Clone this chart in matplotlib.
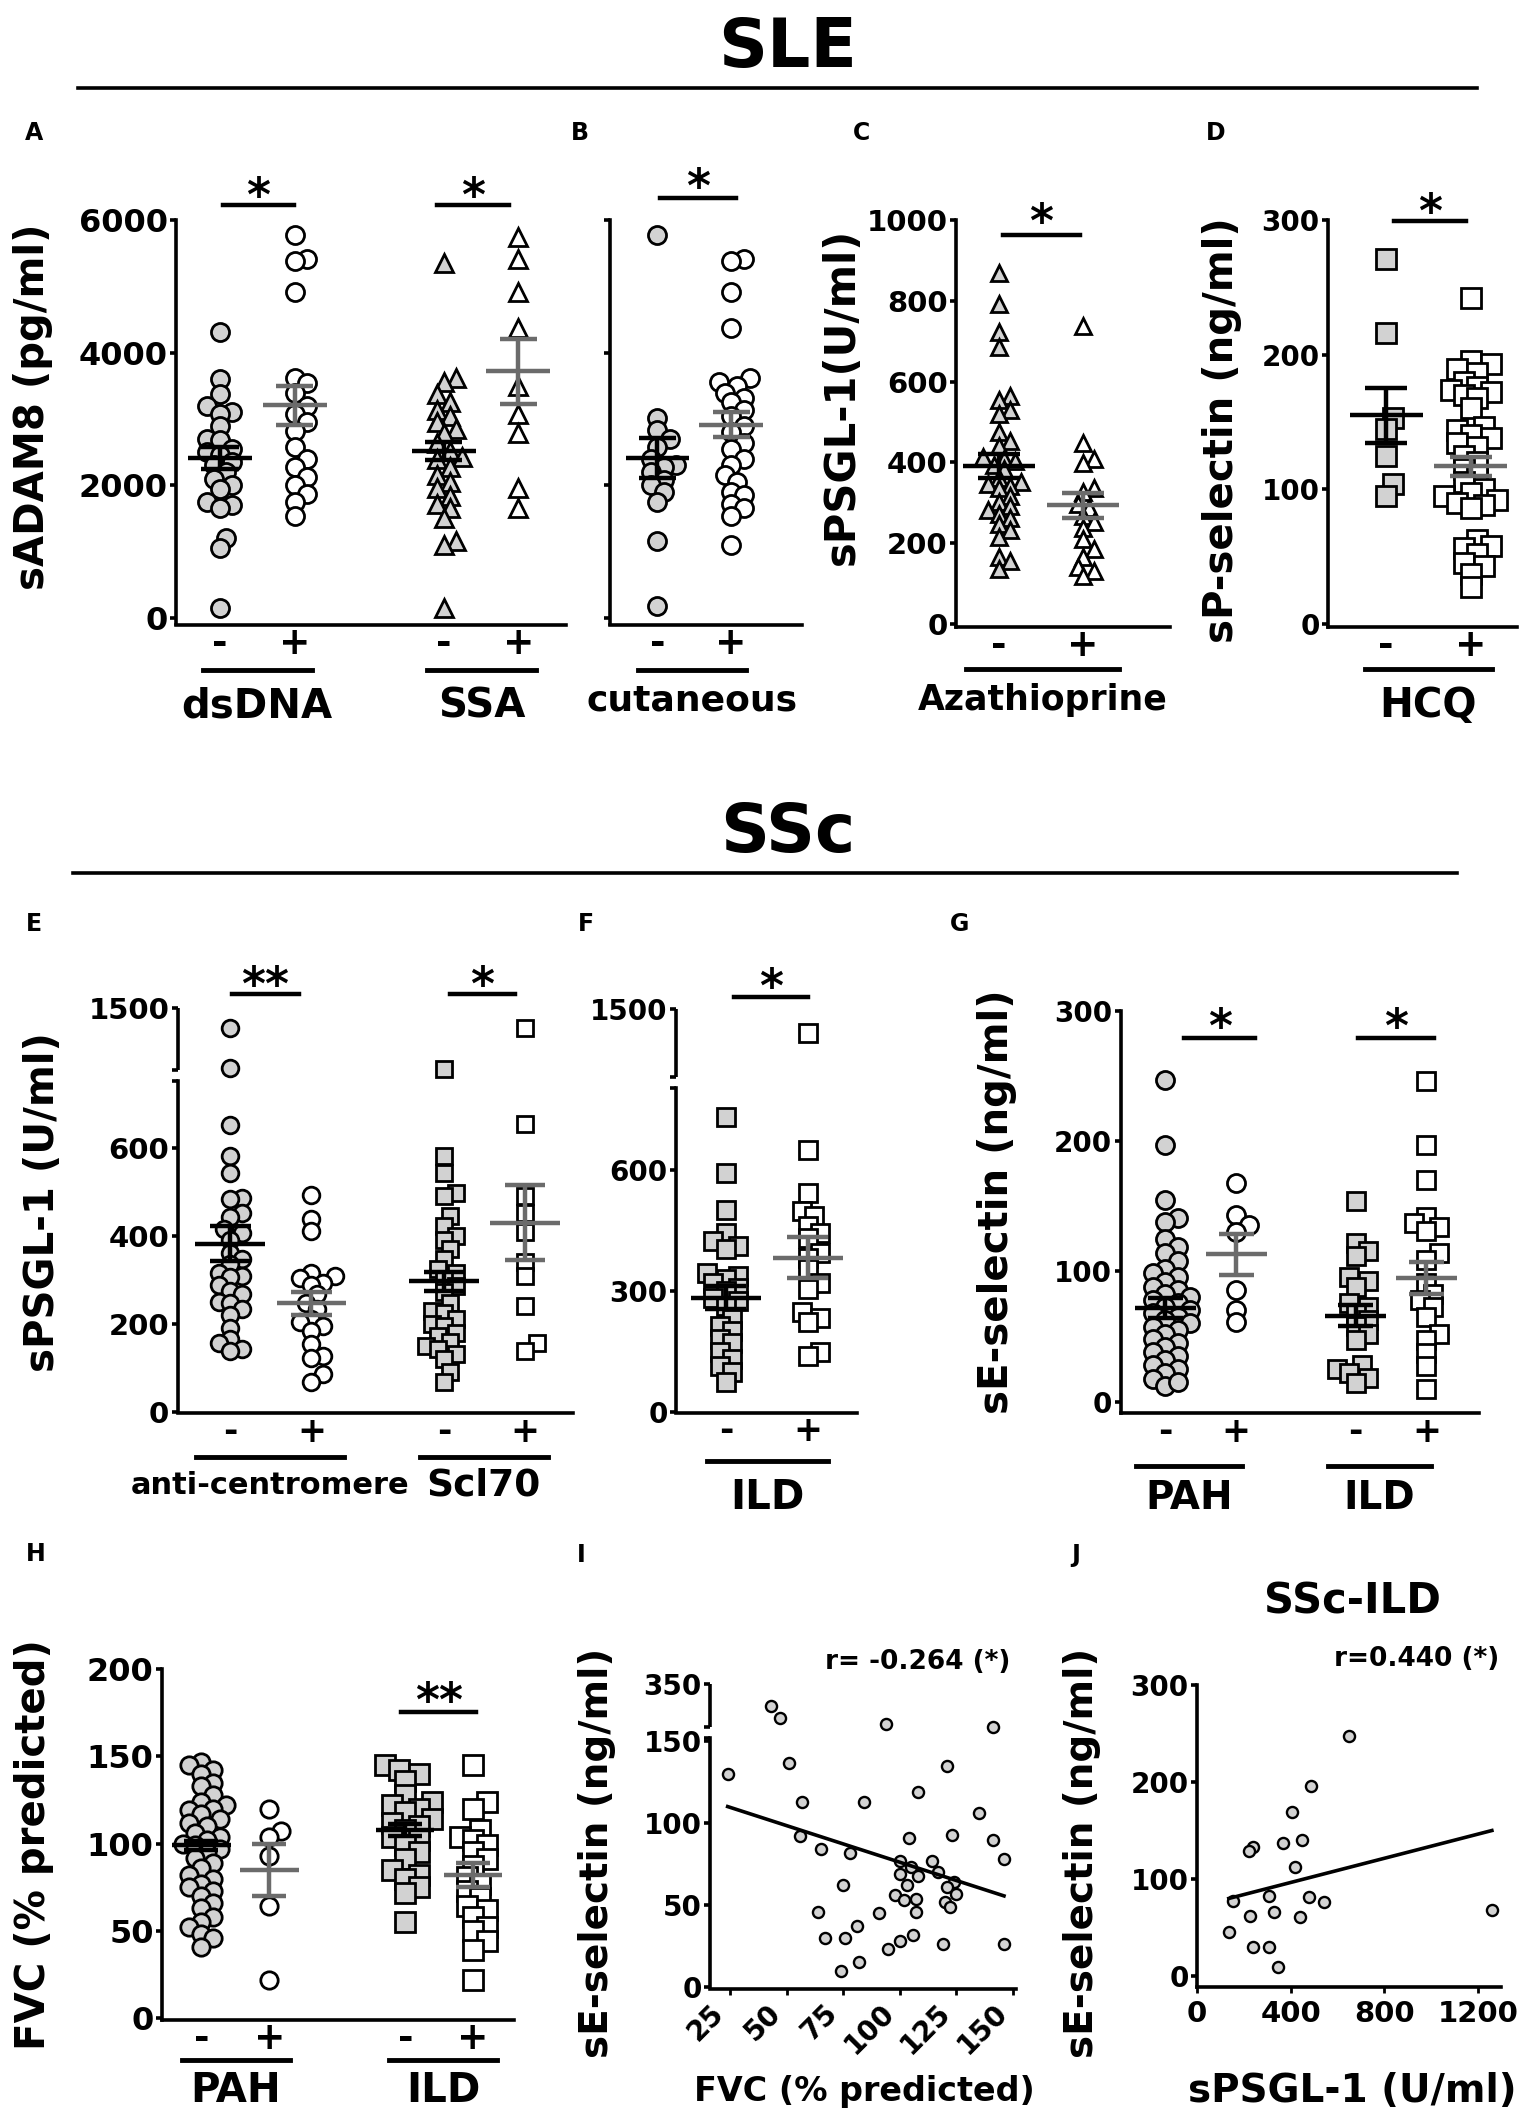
import numpy as np
import matplotlib
matplotlib.use('Agg')
import matplotlib.pyplot as plt
import matplotlib.transforms as mtransforms

plt.rcParams['font.family'] = 'DejaVu Sans'
plt.rcParams['font.weight'] = 'bold'
plt.rcParams['axes.labelweight'] = 'bold'

# ---- data ----
# A: sADAM8 (pg/ml), dsDNA -/+ and SSA -/+
A_dsdna_neg = [4320, 3600, 3380, 3200, 3100, 3080, 2900, 2700, 2680, 2550, 2500, 2450,
               2350, 2300, 2200, 2100, 2000, 1950, 1750, 1700, 1650, 1200, 1050, 150]
A_dsdna_pos = [5780, 5420, 5380, 4920, 3620, 3540, 3400, 3200, 3080, 2950, 2820, 2580,
               2400, 2280, 2120, 2000, 1870, 1750, 1530]
A_ssa_neg = [5350, 3620, 3560, 3380, 3250, 3130, 3050, 2950, 2850, 2790, 2640, 2520, 2420,
             2390, 2280, 2150, 2050, 1960, 1830, 1710, 1650, 1500, 1160, 1100, 150]
A_ssa_pos = [5750, 5410, 4920, 4370, 3500, 3070, 2790, 1960, 1650]
A_mean = [2411, 3206, 2516, 3718]
A_sem = [170, 300, 130, 485]

# B: sADAM8, cutaneous -/+
B_neg = [5780, 3010, 2830, 2700, 2580, 2400, 2300, 2270, 2200, 2080, 2000, 1900, 1750, 1160, 170]
B_pos = [5420, 5380, 4920, 4370, 3620, 3560, 3500, 3400, 3320, 3250, 3130, 3050, 2890,
         2800, 2640, 2550, 2390, 2300, 2150, 2050, 1900, 1850, 1710, 1650, 1530, 1100]
B_mean = [2411, 2917]
B_sem = [308, 195]

# C: sPSGL-1 (U/ml), Azathioprine -/+
C_neg = [868, 792, 722, 686, 565, 554, 529, 519, 474, 453, 440, 413, 408, 403, 393, 383, 362,
         352, 347, 342, 337, 317, 302, 291, 281, 271, 261, 246, 231, 216, 165, 155, 135]
C_pos = [737, 448, 408, 398, 337, 327, 297, 287, 266, 251, 236, 210, 185, 165, 140, 130, 119]
C_mean = [391, 293]
C_sem = [29, 32]

# D: sP-selectin (ng/ml), HCQ -/+
D_neg = [271, 216, 153, 145, 125, 104, 95]
D_pos = [242, 195, 193, 189, 186, 180, 176, 174, 172, 170, 168, 160, 146, 144, 140, 138, 134,
         131, 125, 120, 115, 110, 105, 100, 97, 95, 92, 90, 88, 86, 62, 58, 56, 52, 45, 43, 37, 27]
D_mean = [155, 117]
D_sem = [20.5, 7]

# E: sPSGL-1 (U/ml), anti-centromere -/+ and Scl70 -/+
E_ac_neg = [1340, 1015, 651, 581, 543, 487, 483, 453, 443, 415, 407, 392, 362, 347, 336, 317,
            310, 306, 290, 275, 268, 250, 249, 234, 220, 192, 166, 158, 143, 140]
E_ac_pos = [494, 438, 411, 315, 309, 305, 294, 290, 268, 249, 234, 211, 205, 196, 185, 155,
            128, 124, 87, 68]
E_scl_neg = [1010, 581, 543, 498, 490, 445, 423, 400, 392, 370, 347, 325, 317, 302, 287, 272,
             249, 230, 226, 211, 200, 196, 181, 174, 160, 150, 143, 132, 120, 91, 68]
E_scl_pos = [1340, 653, 491, 453, 408, 340, 309, 242, 158, 140]
E_mean = [383, 247, 297, 430]
E_sem = [39, 25, 21, 85]

# F: sPSGL-1 (U/ml), ILD -/+
F_neg = [730, 592, 501, 444, 423, 410, 403, 345, 337, 329, 320, 308, 300, 283, 275, 263, 230,
         214, 200, 181, 170, 148, 131, 115, 99, 74]
F_pos = [1320, 649, 542, 497, 485, 460, 444, 430, 394, 382, 353, 320, 305, 247, 234, 222, 148, 140]
F_mean = [283, 382]
F_sem = [29, 51]

# G: sE-selectin (ng/ml), PAH -/+ and ILD -/+
G_pah_neg = [247, 197, 155, 141, 138, 125, 119, 114, 108, 102, 99, 96, 92, 88, 86, 83, 80, 78,
             76, 73, 70, 68, 65, 63, 60, 57, 55, 52, 48, 45, 42, 38, 35, 32, 28, 25, 22, 17, 12, 15]
G_pah_pos = [168, 143, 136, 130, 86, 70, 61]
G_ild_neg = [154, 122, 116, 112, 96, 93, 88, 76, 73, 68, 63, 58, 52, 47, 28, 25, 22, 18, 14]
G_ild_pos = [246, 197, 170, 142, 137, 134, 131, 114, 109, 91, 83, 78, 73, 65, 52, 47, 37, 27, 10]
G_mean = [72, 113, 66, 95]
G_sem = [7.5, 16, 8, 12.5]

# H: FVC (% predicted), PAH -/+ and ILD -/+
H_pah_neg = [147, 145, 142, 140, 135, 133, 128, 124, 122, 120, 119, 117, 114, 112, 110, 106,
             104, 102, 100, 99, 97, 95, 92, 89, 86, 82, 80, 77, 75, 73, 70, 66, 63, 58, 55, 52,
             48, 46, 41]
H_pah_pos = [120, 107, 104, 93, 64, 22]
H_ild_neg = [145, 142, 140, 136, 128, 124, 122, 120, 118, 114, 112, 110, 108, 104, 102, 99, 95,
             91, 85, 82, 80, 75, 72, 55]
H_ild_pos = [145, 124, 120, 108, 104, 102, 99, 95, 91, 87, 81, 77, 73, 69, 64, 62, 58, 52, 50,
             44, 39, 22]
H_mean = [99, 85, 108, 82]
H_sem = [2.6, 15, 3.5, 7]

# I: FVC vs sE-selectin
I_fvc = [43, 47, 94, 141, 24, 51, 57, 84, 108, 121, 135, 123, 104, 141, 146, 56, 65, 78, 100,
         114, 105, 117, 100, 108, 124, 103, 121, 75, 125, 98, 102, 107, 120, 122, 64, 91, 107,
         81, 67, 76, 106, 100, 95, 119, 146, 82, 74]
I_sesel = [255, 199, 177, 162, 130, 137, 113, 113, 119, 135, 106, 93, 91, 90, 78, 92, 84, 82,
           77, 77, 73, 70, 69, 68, 64, 62, 61, 62, 57, 56, 53, 54, 52, 49, 46, 45, 46, 37, 30,
           30, 32, 28, 23, 26, 26, 15, 10]
I_fit = (-0.447, 120.9)
I_fit_range = [24, 146]

# J: sPSGL-1 vs sE-selectin (SSc-ILD)
J_psgl = [650, 488, 407, 447, 366, 238, 222, 420, 154, 306, 480, 542, 225, 331, 439, 136, 238,
          306, 344, 1260]
J_sesel = [247, 196, 169, 140, 137, 133, 129, 112, 77, 82, 81, 76, 62, 66, 61, 45, 30, 30, 9, 68]
J_fit = (0.0623, 71.5)
J_fit_range = [136, 1260]

PM = ['-', '+']

# ---- layout helpers (pixel boxes of the 1535x2119 canvas) ----
W, H = 1535, 2119
fig = plt.figure(figsize=(W / 100, H / 100), dpi=100)
GRAY = '#d2d2d2'
MEAN_COL = ['black', '#6b6b6b']


def axes_px(left, right, top, bottom):
    return fig.add_axes([left / W, 1 - bottom / H, (right - left) / W, (bottom - top) / H])


def fy(y):
    return 1 - y / H


def style(ax, tick_fs, xfs=27):
    for s in ('top', 'right'):
        ax.spines[s].set_visible(False)
    for s in ('left', 'bottom'):
        ax.spines[s].set_linewidth(2.6)
    ax.tick_params(axis='y', direction='out', length=4, width=2.6, labelsize=tick_fs, pad=2)
    ax.tick_params(axis='x', length=0, labelsize=xfs, pad=1)


def broken(ax, vin, vout):
    ax.set_yscale('function', functions=(lambda v: np.interp(v, vin, vout),
                                         lambda u: np.interp(u, vout, vin)))


def swarm(ax, x0, vals, d):
    # compact scatter: nudge overlapping points sideways a little
    vals = np.asarray(vals, float)
    pts = ax.transData.transform(np.column_stack([np.full(len(vals), x0), vals]))
    placed = []
    out = np.empty(len(vals))
    steps = [0] + [s * k for k in range(1, 5) for s in (1, -1)]
    for i in np.argsort(pts[:, 1]):
        best, best_gap = pts[i, 0], -1
        for k in steps:
            cx = pts[i, 0] + k * d * 0.3
            gap = min((np.hypot(cx - px, pts[i, 1] - py) for px, py in placed), default=1e9)
            if gap >= 0.55 * d:
                best = cx
                break
            if gap > best_gap:
                best, best_gap = cx, gap
        placed.append((best, pts[i, 1]))
        out[i] = best
    return ax.transData.inverted().transform(np.column_stack([out, pts[:, 1]]))[:, 0]


def column(ax, x0, vals, marker, filled, ms, mean, sem, k):
    d = (ms + 2) * 100 / 72
    xs = swarm(ax, x0, vals, d)
    ax.plot(xs, vals, ls='none', marker=marker, ms=ms, mfc=GRAY if filled else 'white',
            mec='black', mew=2, zorder=3, clip_on=False)
    c = MEAN_COL[k]
    ax.hlines(mean, x0 - 0.43, x0 + 0.43, colors=c, lw=3.2, zorder=4)
    ax.hlines([mean - sem, mean + sem], x0 - 0.25, x0 + 0.25, colors=c, lw=3.2, zorder=4)
    ax.vlines(x0, mean - sem, mean + sem, colors=c, lw=3.2, zorder=4)


def sig(ax, x1, x2, y_bar, y_star, label):
    tr = mtransforms.blended_transform_factory(ax.transData, fig.transFigure)
    ax.plot([x1, x2], [fy(y_bar)] * 2, transform=tr, color='black', lw=3.2, clip_on=False)
    ax.text((x1 + x2) / 2, fy(y_star + 27), label, transform=tr, ha='center', va='baseline',
            fontsize=33)


def group(ax, x1, x2, y_line, name, y_name, fs):
    tr = mtransforms.blended_transform_factory(ax.transData, fig.transFigure)
    ax.plot([x1, x2], [fy(y_line)] * 2, transform=tr, color='black', lw=3.5, clip_on=False)
    ax.text((x1 + x2) / 2, fy(y_name), name, transform=tr, ha='center', va='center', fontsize=fs)


def ylabel(ax, text, x, y, box, fs=29):
    left, right, top, bottom = box
    ax.set_ylabel(text, fontsize=fs, fontweight='bold', ha='center', va='center')
    ax.yaxis.set_label_coords((x - left) / (right - left), (bottom - y) / (bottom - top))


def xlabel(ax, text, x, y, box, fs):
    left, right, top, bottom = box
    ax.set_xlabel(text, fontsize=fs, fontweight='bold', ha='center', va='center')
    ax.xaxis.set_label_coords((x - left) / (right - left), (bottom - y) / (bottom - top))


# ---- section titles and panel letters ----
fig.text(788 / W, fy(67), 'SLE', ha='center', va='baseline', fontsize=49)
fig.add_artist(plt.Line2D([78 / W, 1477 / W], [fy(88)] * 2, color='black', lw=2.6))
fig.text(788 / W, fy(852), 'SSc', ha='center', va='baseline', fontsize=49)
fig.add_artist(plt.Line2D([73 / W, 1457 / W], [fy(873)] * 2, color='black', lw=2.6))
for letter, x, y in [('A', 34, 133), ('B', 580, 133), ('C', 862, 133), ('D', 1216, 133),
                     ('E', 34, 924), ('F', 586, 924), ('G', 960, 924),
                     ('H', 36, 1554), ('I', 581, 1555), ('J', 1076, 1555)]:
    fig.text(x / W, fy(y), letter, ha='center', va='center', fontsize=17)

# ---- A ----
box = (176, 566, 220.4, 624.5)
ax = axes_px(*box)
style(ax, 23)
ax.set_xlim(-0.59, 4.64)
ax.set_ylim(-104, 6000)
ax.set_yticks([0, 2000, 4000, 6000])
pos = [0, 1, 3, 4]
ax.set_xticks(pos, PM * 2)
column(ax, pos[0], A_dsdna_neg, 'o', True, 13, A_mean[0], A_sem[0], 0)
column(ax, pos[1], A_dsdna_pos, 'o', False, 13, A_mean[1], A_sem[1], 1)
column(ax, pos[2], A_ssa_neg, '^', True, 13, A_mean[2], A_sem[2], 0)
column(ax, pos[3], A_ssa_pos, '^', False, 13, A_mean[3], A_sem[3], 1)
sig(ax, 0.04, 0.99, 205, 184, '*')
sig(ax, 2.91, 3.88, 205, 184, '*')
group(ax, -0.23, 1.23, 670, 'dsDNA', 706, 29)
group(ax, 2.77, 4.24, 670, 'SSA', 706, 29)
ylabel(ax, 'sADAM8 (pg/ml)', 33, 407, box)

# ---- B ----
box = (610, 802, 220.4, 624.5)
ax = axes_px(*box)
style(ax, 23)
ax.set_xlim(-0.64, 1.96)
ax.set_ylim(-104, 6000)
ax.set_yticks([0, 2000, 4000, 6000], [])
ax.set_xticks([0, 1], PM)
column(ax, 0, B_neg, 'o', True, 13, B_mean[0], B_sem[0], 0)
column(ax, 1, B_pos, 'o', False, 13, B_mean[1], B_sem[1], 1)
sig(ax, 0.04, 1.07, 198, 175, '*')
group(ax, -0.26, 1.2, 670, 'cutaneous', 700, 26)

# ---- C ----
box = (956, 1170, 220, 627)
ax = axes_px(*box)
style(ax, 21)
ax.set_xlim(-0.51, 2.03)
ax.set_ylim(-8, 1000)
ax.set_yticks([0, 200, 400, 600, 800, 1000])
ax.set_xticks([0, 1], PM)
column(ax, 0, C_neg, '^', True, 11, C_mean[0], C_sem[0], 0)
column(ax, 1, C_pos, '^', False, 11, C_mean[1], C_sem[1], 1)
sig(ax, 0.05, 0.96, 235, 210, '*')
group(ax, -0.39, 1.42, 669, 'Azathioprine', 700, 25)
ylabel(ax, 'sPSGL-1(U/ml)', 842, 396, box, fs=30)

# ---- D ----
box = (1328, 1517, 220, 627)
ax = axes_px(*box)
style(ax, 20)
ax.set_xlim(-0.69, 1.55)
ax.set_ylim(-2.4, 300)
ax.set_yticks([0, 100, 200, 300])
ax.set_xticks([0, 1], PM)
column(ax, 0, D_neg, 's', True, 14, D_mean[0], D_sem[0], 0)
column(ax, 1, D_pos, 's', False, 14, D_mean[1], D_sem[1], 1)
sig(ax, 0.09, 0.94, 221, 200, '*')
group(ax, -0.25, 1.25, 669, 'HCQ', 706, 29)
ylabel(ax, 'sP-selectin (ng/ml)', 1222, 430, box)

# ---- E ----
box = (177.5, 573, 1008, 1413.3)
ax = axes_px(*box)
broken(ax, [-1000, 0, 751, 1000, 1500, 5000], [-1000, 0, 751, 777, 917, 1897])
style(ax, 21, 25)
ax.set_xlim(-0.65, 4.22)
ax.set_ylim(-2, 1500)
ax.set_yticks([0, 200, 400, 600, 1500])
ax.set_yticks([751, 1000], minor=True)
ax.tick_params(axis='y', which='minor', length=4, width=2.6)
ax.spines['left'].set_bounds(0, 751)
ax.plot([0, 0], [1000, 1500], transform=ax.get_yaxis_transform(), color='black', lw=2.6,
        clip_on=False, solid_capstyle='butt')
pos = [0, 1, 2.63, 3.63]
ax.set_xticks(pos, PM * 2)
column(ax, pos[0], E_ac_neg, 'o', True, 12, E_mean[0], E_sem[0], 0)
column(ax, pos[1], E_ac_pos, 'o', False, 12, E_mean[1], E_sem[1], 1)
column(ax, pos[2], E_scl_neg, 's', True, 12, E_mean[2], E_sem[2], 0)
column(ax, pos[3], E_scl_pos, 's', False, 12, E_mean[3], E_sem[3], 1)
sig(ax, 0.02, 0.84, 994, 973, '**')
sig(ax, 2.70, 3.51, 994, 973, '*')
group(ax, -0.42, 1.4, 1457, 'anti-centromere', 1485, 22)
group(ax, 2.33, 3.91, 1457, 'Scl70', 1485, 27)
ylabel(ax, 'sPSGL-1 (U/ml)', 43, 1202, box)

# ---- F ----
box = (676, 857, 1009, 1413)
ax = axes_px(*box)
broken(ax, [-1000, 0, 801, 1000, 1500, 5000], [-1000, 0, 801, 830, 997, 2166])
style(ax, 20, 25)
ax.set_xlim(-0.61, 1.6)
ax.set_ylim(-2, 1500)
ax.set_yticks([0, 300, 600, 1500])
ax.set_yticks([801, 1000], minor=True)
ax.tick_params(axis='y', which='minor', length=4, width=2.6)
ax.spines['left'].set_bounds(0, 801)
ax.plot([0, 0], [1000, 1500], transform=ax.get_yaxis_transform(), color='black', lw=2.6,
        clip_on=False, solid_capstyle='butt')
ax.set_xticks([0, 1], PM)
column(ax, 0, F_neg, 's', True, 13, F_mean[0], F_sem[0], 0)
column(ax, 1, F_pos, 's', False, 13, F_mean[1], F_sem[1], 1)
sig(ax, 0.1, 1.0, 997, 975, '*')
group(ax, -0.23, 1.24, 1461, 'ILD', 1498, 29)

# ---- G ----
box = (1120.6, 1479, 1011, 1413.3)
ax = axes_px(*box)
style(ax, 20, 25)
ax.set_xlim(-0.63, 4.42)
ax.set_ylim(-9, 300)
ax.set_yticks([0, 100, 200, 300])
pos = [0, 1, 2.68, 3.68]
ax.set_xticks(pos, PM * 2)
column(ax, pos[0], G_pah_neg, 'o', True, 13, G_mean[0], G_sem[0], 0)
column(ax, pos[1], G_pah_pos, 'o', False, 13, G_mean[1], G_sem[1], 1)
column(ax, pos[2], G_ild_neg, 's', True, 13, G_mean[2], G_sem[2], 0)
column(ax, pos[3], G_ild_pos, 's', False, 13, G_mean[3], G_sem[3], 1)
sig(ax, 0.27, 1.27, 1038, 1015, '*')
sig(ax, 2.71, 3.78, 1038, 1015, '*')
group(ax, -0.41, 1.08, 1466, 'PAH', 1498, 28)
group(ax, 2.29, 3.74, 1466, 'ILD', 1498, 28)
ylabel(ax, 'sE-selectin (ng/ml)', 997, 1202, box)

# ---- H ----
box = (162, 514, 1669, 2020)
ax = axes_px(*box)
style(ax, 23)
ax.set_xlim(-0.58, 4.6)
ax.set_ylim(-1, 200)
ax.set_yticks([0, 50, 100, 150, 200])
pos = [0, 1, 3, 4]
ax.set_xticks(pos, PM * 2)
column(ax, pos[0], H_pah_neg, 'o', True, 12.5, H_mean[0], H_sem[0], 0)
column(ax, pos[1], H_pah_pos, 'o', False, 12.5, H_mean[1], H_sem[1], 1)
column(ax, pos[2], H_ild_neg, 's', True, 14, H_mean[2], H_sem[2], 0)
column(ax, pos[3], H_ild_pos, 's', False, 14, H_mean[3], H_sem[3], 1)
sig(ax, 2.94, 4.04, 1712, 1689, '**')
group(ax, -0.29, 1.3, 2060, 'PAH', 2091, 29)
group(ax, 2.76, 4.35, 2060, 'ILD', 2091, 29)
ylabel(ax, 'FVC (% predicted)', 34, 1845, box)

# ---- I ----
box = (710, 1016, 1684, 1989)
ax = axes_px(*box)
broken(ax, [-1000, 0, 152, 160, 350, 5000], [-1000, 0, 152, 158.5, 185, 833])
style(ax, 20)
ax.tick_params(axis='x', length=4, width=2, labelsize=20, pad=3)
ax.set_xlim(16.2, 151.3)
ax.set_ylim(-1.2, 350)
ax.set_yticks([0, 50, 100, 150, 350])
ax.set_yticks([152, 160], minor=True)
ax.tick_params(axis='y', which='minor', length=4, width=2.6)
ax.spines['left'].set_bounds(0, 152)
ax.plot([0, 0], [160, 350], transform=ax.get_yaxis_transform(), color='black', lw=2.6,
        clip_on=False, solid_capstyle='butt')
ax.set_xticks([25, 50, 75, 100, 125, 150])
for lab in ax.get_xticklabels():
    lab.set_rotation(45)
    lab.set_ha('right')
ax.plot(I_fvc, I_sesel, ls='none', marker='o', ms=8, mfc=GRAY, mec='black', mew=1.7,
        zorder=3, clip_on=False)
xr = np.array(I_fit_range, float)
ax.plot(xr, I_fit[0] * xr + I_fit[1], color='black', lw=2.6, zorder=4)
fig.text(918 / W, fy(1662), 'r= -0.264 (*)', ha='center', va='center', fontsize=19)
ylabel(ax, 'sE-selectin (ng/ml)', 597, 1853, box, fs=28)
xlabel(ax, 'FVC (% predicted)', 864, 2091, box, 24)

# ---- J ----
box = (1197, 1501, 1685, 1987)
ax = axes_px(*box)
style(ax, 20)
ax.tick_params(axis='x', length=4, width=2, labelsize=21, pad=5)
ax.set_xlim(0, 1299)
ax.set_ylim(-11.3, 300)
ax.set_yticks([0, 100, 200, 300])
ax.set_xticks([0, 400, 800, 1200])
ax.plot(J_psgl, J_sesel, ls='none', marker='o', ms=8, mfc=GRAY, mec='black', mew=1.7,
        zorder=3, clip_on=False)
xr = np.array(J_fit_range, float)
ax.plot(xr, J_fit[0] * xr + J_fit[1], color='black', lw=2.6, zorder=4)
fig.text(1352 / W, fy(1601), 'SSc-ILD', ha='center', va='center', fontsize=30)
fig.text(1417 / W, fy(1659), 'r=0.440 (*)', ha='center', va='center', fontsize=19)
ylabel(ax, 'sE-selectin (ng/ml)', 1082, 1853, box, fs=28)
xlabel(ax, 'sPSGL-1 (U/ml)', 1352, 2091, box, 28)

fig.savefig('out.png', dpi=100)
